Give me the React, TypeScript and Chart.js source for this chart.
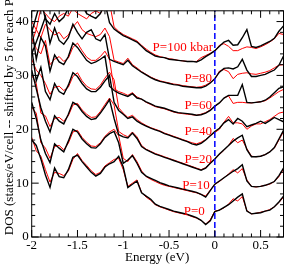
import React, { useEffect, useRef } from "react";
import { Chart, registerables } from "chart.js";

Chart.register(...registerables);

// Energy grid (eV)
const energies = [
  -2.0, -1.95, -1.9, -1.85, -1.8, -1.75, -1.7, -1.65, -1.6, -1.55,
  -1.5, -1.45, -1.4, -1.35, -1.3, -1.25, -1.2, -1.15, -1.1, -1.05,
  -1.0, -0.95, -0.9, -0.85, -0.8, -0.75, -0.7, -0.65, -0.6, -0.55,
  -0.5, -0.45, -0.4, -0.35, -0.3, -0.25, -0.2, -0.15, -0.1, -0.05,
  0.0, 0.05, 0.1, 0.15, 0.2, 0.25, 0.3, 0.35, 0.4, 0.45,
  0.5, 0.55, 0.6, 0.65, 0.7, 0.75,
];

// Black curves (one per pressure, already shifted by 5 per P)
const black0 = [18.0, 17.0, 14.5, 11.5, 9.2, 12.8, 11.2, 11.0, 12.5, 14.8, 15.2, 14.0, 13.0, 12.0, 11.3, 11.8, 13.0, 13.6, 14.0, 15.0, 13.0, 9.2, 9.8, 10.4, 8.2, 7.6, 7.0, 6.1, 5.7, 5.4, 5.1, 4.8, 4.6, 4.4, 4.2, 3.9, 3.6, 3.1, 2.3, 3.0, 4.7, 5.0, 5.5, 6.0, 6.7, 7.4, 8.0, 4.8, 4.3, 4.4, 4.5, 4.8, 5.0, 5.6, 6.5, 7.6];
const black10 = [25.0, 22.0, 18.0, 15.5, 13.8, 17.3, 16.5, 15.8, 17.8, 20.0, 19.5, 18.2, 17.3, 16.6, 16.5, 17.3, 18.5, 19.2, 19.6, 17.5, 13.7, 14.3, 15.1, 13.7, 12.0, 11.3, 10.9, 10.5, 10.1, 9.8, 9.5, 9.3, 9.1, 8.9, 8.7, 8.5, 8.3, 7.9, 7.4, 8.6, 9.8, 10.4, 11.0, 11.6, 12.2, 12.7, 13.4, 10.4, 9.4, 9.3, 9.4, 9.6, 9.9, 10.3, 11.4, 12.8];
const black20 = [31.0, 27.5, 24.0, 21.5, 19.5, 22.5, 21.5, 21.0, 22.8, 25.0, 24.5, 23.3, 22.4, 21.8, 22.0, 23.0, 24.2, 25.5, 22.0, 19.0, 18.6, 18.4, 19.3, 18.3, 16.8, 16.2, 15.8, 15.4, 15.1, 14.8, 14.5, 14.2, 13.9, 13.6, 13.3, 13.0, 12.7, 12.4, 12.8, 13.7, 14.5, 15.4, 16.2, 17.0, 17.8, 18.4, 18.9, 16.2, 14.9, 14.9, 15.0, 15.3, 15.8, 16.6, 18.2, 19.8];
const black40 = [35.0, 29.0, 31.5, 27.0, 25.5, 28.5, 27.0, 26.5, 28.2, 30.5, 29.8, 28.5, 27.5, 27.0, 27.0, 27.8, 29.0, 30.0, 25.0, 23.5, 22.8, 22.0, 22.3, 21.5, 21.0, 20.6, 20.2, 19.9, 19.6, 19.2, 18.9, 18.6, 18.3, 18.0, 17.7, 17.3, 17.1, 17.4, 18.0, 18.8, 19.6, 20.2, 21.2, 21.8, 21.0, 22.0, 21.5, 20.5, 20.8, 21.1, 21.5, 21.1, 21.6, 22.2, 21.8, 21.4];
const black60 = [39.0, 33.0, 37.0, 35.5, 30.8, 33.8, 32.5, 32.0, 33.5, 36.0, 35.2, 34.0, 32.8, 32.2, 32.5, 33.0, 33.6, 28.0, 27.2, 26.7, 26.4, 26.1, 26.6, 25.8, 25.6, 25.1, 24.7, 24.3, 24.1, 23.9, 23.6, 23.3, 23.1, 23.0, 22.9, 22.8, 22.6, 22.7, 23.0, 23.5, 24.3, 24.9, 25.8, 26.3, 26.3, 26.3, 28.3, 25.0, 24.9, 25.0, 25.1, 25.4, 26.0, 26.8, 27.6, 27.9];
const black80 = [34.0, 36.2, 38.5, 40.9, 36.0, 38.8, 36.5, 35.8, 37.0, 39.5, 38.0, 36.8, 38.0, 38.5, 36.8, 36.4, 37.6, 33.0, 32.6, 32.3, 32.0, 32.8, 31.8, 31.2, 30.6, 30.1, 29.6, 29.2, 28.9, 28.7, 28.5, 28.3, 28.2, 28.0, 27.9, 27.8, 27.7, 27.7, 28.0, 28.6, 29.4, 30.6, 31.3, 31.4, 31.2, 31.6, 33.0, 31.0, 29.8, 29.8, 30.0, 30.2, 30.6, 31.0, 31.9, 33.6];
const black100 = [38.0, 41.0, 44.0, 40.5, 39.5, 41.5, 40.0, 40.8, 42.5, 45.0, 44.0, 43.0, 41.5, 41.0, 40.6, 41.5, 43.5, 39.8, 38.6, 38.0, 37.4, 37.0, 36.6, 36.2, 35.4, 34.6, 34.1, 33.6, 33.4, 33.3, 33.0, 32.9, 32.8, 32.7, 32.6, 32.6, 32.5, 32.9, 33.5, 34.0, 34.6, 35.4, 36.2, 36.5, 35.6, 35.7, 37.0, 38.5, 35.4, 35.2, 35.5, 35.9, 36.3, 36.9, 38.2, 39.2];

// Red curves
const red0 = [18.5, 16.0, 15.0, 12.5, 10.2, 12.0, 11.8, 11.4, 12.2, 14.4, 15.5, 14.2, 13.3, 12.3, 11.6, 12.0, 13.2, 13.8, 14.4, 14.6, 12.5, 9.4, 10.0, 10.6, 8.3, 7.4, 6.8, 6.0, 5.6, 5.3, 5.0, 4.7, 4.5, 4.3, 4.1, 3.8, 3.5, 3.1, 2.4, 3.2, 4.8, 5.0, 5.4, 6.1, 7.1, 6.7, 7.5, 4.9, 4.3, 4.4, 4.6, 4.8, 5.1, 5.6, 6.4, 7.4];
const red10 = [24.0, 23.0, 17.5, 16.5, 14.6, 16.8, 17.0, 16.2, 17.4, 19.5, 19.8, 18.5, 17.6, 16.9, 16.8, 17.5, 18.7, 19.5, 20.0, 18.8, 14.6, 14.0, 15.3, 14.0, 12.3, 11.2, 10.7, 10.3, 9.9, 9.6, 9.4, 9.2, 9.0, 8.8, 8.6, 8.4, 8.2, 7.9, 7.6, 8.7, 9.8, 10.3, 11.0, 11.7, 12.5, 11.9, 12.7, 10.6, 9.4, 9.3, 9.4, 9.6, 9.8, 10.3, 11.2, 12.6];
const red20 = [30.0, 28.5, 23.0, 22.5, 20.5, 22.0, 22.2, 21.5, 22.5, 24.5, 24.8, 23.6, 22.8, 22.2, 22.3, 23.3, 24.6, 25.8, 24.5, 19.6, 19.0, 18.6, 19.5, 18.6, 17.0, 16.3, 15.9, 15.5, 15.2, 14.9, 14.6, 14.3, 14.0, 13.7, 13.4, 13.1, 12.8, 12.5, 12.9, 13.7, 14.5, 15.3, 16.1, 17.0, 18.3, 17.5, 18.0, 16.4, 15.0, 14.9, 15.0, 15.3, 15.8, 16.5, 18.0, 19.6];
const red40 = [33.0, 31.0, 30.0, 28.5, 26.5, 27.8, 28.0, 27.2, 27.8, 29.8, 30.5, 29.0, 28.0, 27.5, 27.4, 28.2, 29.5, 30.6, 29.2, 24.0, 23.0, 22.2, 22.6, 21.8, 21.2, 20.7, 20.3, 20.0, 19.7, 19.3, 19.0, 18.7, 18.4, 18.1, 17.8, 17.5, 17.3, 17.6, 18.1, 18.8, 19.4, 20.0, 21.3, 22.4, 21.2, 21.2, 21.0, 20.0, 20.6, 21.0, 21.0, 21.4, 21.8, 22.4, 23.0, 23.2];
const red60 = [37.0, 35.0, 34.0, 36.5, 32.0, 33.0, 33.5, 32.6, 33.2, 35.2, 36.0, 34.6, 33.4, 32.8, 32.8, 33.5, 34.5, 33.0, 27.5, 27.0, 26.7, 26.3, 26.8, 26.0, 25.6, 25.0, 24.6, 24.2, 24.0, 23.8, 23.5, 23.2, 23.0, 22.9, 22.8, 22.7, 22.6, 22.8, 23.1, 23.6, 24.2, 24.9, 25.8, 26.2, 24.8, 25.0, 25.0, 24.9, 24.9, 25.0, 25.1, 25.3, 25.8, 26.4, 27.0, 27.4];
const red80 = [36.0, 38.5, 37.0, 39.5, 38.5, 37.5, 38.0, 36.8, 37.5, 39.0, 40.0, 38.5, 37.8, 37.5, 37.2, 37.6, 38.8, 37.2, 32.8, 32.5, 32.2, 33.2, 32.0, 31.4, 30.7, 30.2, 29.7, 29.3, 29.0, 28.8, 28.6, 28.4, 28.3, 28.1, 28.0, 27.9, 27.8, 27.9, 28.2, 28.7, 29.3, 30.8, 31.1, 30.7, 29.4, 30.2, 30.4, 30.5, 30.3, 30.2, 30.4, 30.6, 30.9, 31.4, 31.9, 32.0];
const red100 = [40.0, 38.5, 42.5, 41.5, 40.5, 40.0, 41.0, 41.5, 41.0, 42.5, 41.5, 41.0, 40.5, 41.5, 42.0, 41.5, 43.0, 43.5, 39.0, 38.2, 37.6, 37.2, 36.8, 36.4, 35.6, 34.9, 34.3, 33.8, 33.5, 33.3, 33.1, 33.0, 32.8, 32.7, 32.6, 32.6, 32.6, 33.3, 33.7, 34.1, 34.5, 35.6, 35.9, 35.4, 34.6, 34.6, 35.0, 35.3, 35.2, 35.0, 35.3, 35.7, 36.2, 36.8, 37.8, 37.6];

const blackSeries = [black0, black10, black20, black40, black60, black80, black100];
const redSeries = [red0, red10, red20, red40, red60, red80, red100];

// Axes ticks
const xTicks = [-2, -1.5, -1, -0.5, 0, 0.5];
const yTicks = [0, 10, 20, 30, 40];
const xMinorStep = 0.1;
const yMinorStep = 2;

// Annotations (data coordinates: right edge / baseline)
const labelTexts = ["P=0", "P=10", "P=20", "P=40", "P=60", "P=80", "P=100 kbar"];
const labelX = [-0.11, -0.055, -0.03, -0.03, -0.03, -0.03, -0.02];
const labelY = [4.0, 8.9, 13.8, 19.0, 23.8, 28.8, 34.6];

const xTitle = "Energy (eV)";
const yTitle = "DOS (states/eV/cell -- shifted by 5 for each P)";

const SERIF = '"Liberation Serif", "Times New Roman", serif';

const decorPlugin = {
  id: "decor",
  afterDatasetsDraw(chart: any) {
    const { ctx, chartArea: a, scales } = chart;
    const x = scales.x;
    const y = scales.y;
    ctx.save();
    // Fermi level dashed line
    const x0 = x.getPixelForValue(0);
    ctx.strokeStyle = "#0000ff";
    ctx.lineWidth = 1.5;
    ctx.setLineDash([6, 3]);
    ctx.beginPath();
    ctx.moveTo(x0, a.bottom);
    ctx.lineTo(x0, a.top);
    ctx.stroke();
    ctx.setLineDash([]);

    // frame
    ctx.strokeStyle = "#000";
    ctx.lineWidth = 1;
    ctx.strokeRect(a.left, a.top, a.right - a.left, a.bottom - a.top);

    // inward ticks
    const major = 7;
    const minor = 3.5;
    ctx.beginPath();
    const xmin = x.min, xmax = x.max;
    for (let k = Math.ceil(xmin / xMinorStep - 1e-6); k * xMinorStep <= xmax + 1e-6; k++) {
      const v = Math.round(k * xMinorStep * 100) / 100;
      const isMajor = xTicks.some((t) => Math.abs(t - v) < 1e-6);
      const len = isMajor ? major : minor;
      const px = x.getPixelForValue(v);
      ctx.moveTo(px, a.bottom);
      ctx.lineTo(px, a.bottom - len);
      ctx.moveTo(px, a.top);
      ctx.lineTo(px, a.top + len);
    }
    for (let k = 0; k * yMinorStep <= y.max + 1e-6; k++) {
      const v = k * yMinorStep;
      const isMajor = yTicks.some((t) => Math.abs(t - v) < 1e-6);
      const len = isMajor ? major : minor;
      const py = y.getPixelForValue(v);
      ctx.moveTo(a.left, py);
      ctx.lineTo(a.left + len, py);
      ctx.moveTo(a.right, py);
      ctx.lineTo(a.right - len, py);
    }
    ctx.stroke();

    // pressure labels
    ctx.font = `13px ${SERIF}`;
    ctx.fillStyle = "#ff0000";
    ctx.textAlign = "right";
    ctx.textBaseline = "alphabetic";
    labelTexts.forEach((t, i) => {
      ctx.fillText(t, x.getPixelForValue(labelX[i]), y.getPixelForValue(labelY[i]));
    });

    // y title
    ctx.fillStyle = "#000";
    ctx.translate(13, 115);
    ctx.rotate(-Math.PI / 2);
    ctx.textAlign = "center";
    ctx.fillText(yTitle, 0, 0);
    ctx.restore();
  },
};

export default function App() {
  const canvasRef = useRef<HTMLCanvasElement | null>(null);

  useEffect(() => {
    if (!canvasRef.current) return;
    const toPoints = (s: number[]) => energies.map((e, i) => ({ x: e, y: s[i] }));
    const datasets: any[] = [];
    blackSeries.forEach((s, i) =>
      datasets.push({
        label: "black " + labelTexts[i],
        data: toPoints(s),
        borderColor: "#000000",
        borderWidth: 1.4,
        pointRadius: 0,
        tension: 0,
        fill: false,
      })
    );
    redSeries.forEach((s, i) =>
      datasets.push({
        label: "red " + labelTexts[i],
        data: toPoints(s),
        borderColor: "#ff0000",
        borderWidth: 1,
        pointRadius: 0,
        tension: 0,
        fill: false,
      })
    );

    const chart = new Chart(canvasRef.current, {
      type: "line",
      data: { datasets },
      options: {
        animation: false,
        responsive: false,
        devicePixelRatio: 1,
        layout: { padding: { top: 1, right: 2.5, left: 0, bottom: 0 } },
        plugins: { legend: { display: false }, tooltip: { enabled: false } },
        events: [],
        scales: {
          x: {
            type: "linear",
            min: -2,
            max: 0.75,
            afterBuildTicks: (s: any) => {
              s.ticks = xTicks.map((v) => ({ value: v }));
            },
            afterFit: (s: any) => {
              s.height = 28;
            },
            grid: { display: false, drawTicks: false },
            border: { display: false },
            title: { display: false },
            ticks: {
              color: "#000",
              font: { family: SERIF, size: 13 },
              padding: 1,
              maxRotation: 0,
              autoSkip: false,
              callback: (v: any) => String(v),
            },
          },
          y: {
            type: "linear",
            min: 0,
            max: 42,
            afterBuildTicks: (s: any) => {
              s.ticks = yTicks.map((v) => ({ value: v }));
            },
            afterFit: (s: any) => {
              s.width = 31.7;
            },
            grid: { display: false, drawTicks: false },
            border: { display: false },
            ticks: {
              color: "#000",
              font: { family: SERIF, size: 13 },
              padding: 3,
              autoSkip: false,
              callback: (v: any) => String(v),
            },
          },
        },
      },
      plugins: [
        decorPlugin,
        {
          id: "xtitle",
          afterDraw(chart: any) {
            const { ctx, scales } = chart;
            ctx.save();
            ctx.font = `13px ${SERIF}`;
            ctx.fillStyle = "#000";
            ctx.textAlign = "center";
            ctx.textBaseline = "alphabetic";
            ctx.fillText(xTitle, scales.x.getPixelForValue(-0.63), 261);
            ctx.restore();
          },
        },
      ],
    });
    return () => chart.destroy();
  }, []);

  return (
    <div style={{ position: "fixed", left: 0, top: 0, width: 286, height: 265, background: "#fff" }}>
      <canvas ref={canvasRef} width={286} height={265} style={{ display: "block" }} />
    </div>
  );
}
